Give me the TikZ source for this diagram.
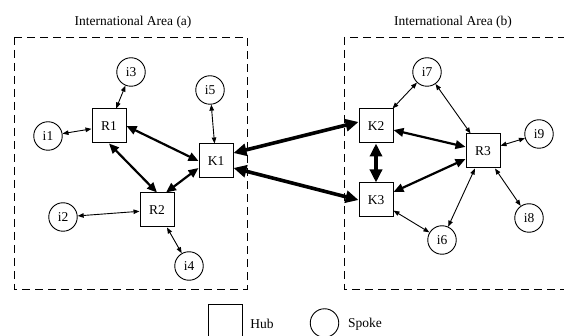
\documentclass[tikz,border=0pt]{standalone}
\usepackage{fontspec}
\setmainfont{Liberation Serif}
\usetikzlibrary{arrows.meta}

\begin{document}
\begin{tikzpicture}[x=1pt,y=-1pt,
    every node/.style={font=\fontsize{13.5}{16}\selectfont},
    hub/.style={draw,line width=1pt,minimum size=34pt,inner sep=0pt},
    spoke/.style={draw,circle,line width=0.9pt,minimum size=28.5pt,inner sep=0pt},
    thinarrow/.style={line width=0.9pt,{Triangle[length=6pt,width=4.5pt]}-{Triangle[length=6pt,width=4.5pt]}},
    midarrow/.style={line width=2.2pt,{Triangle[length=10pt,width=8.5pt]}-{Triangle[length=10pt,width=8.5pt]}},
    bigarrow/.style={line width=3.6pt,{Triangle[length=13pt,width=12pt]}-{Triangle[length=13pt,width=12pt]}},
    area/.style={draw,line width=0.9pt,dash pattern=on 8pt off 5pt}]
    \useasboundingbox (0,0) rectangle (564,336);

    % the two areas
    \draw[area] (14,37) rectangle (247,289);
    \draw[area] (344,37) rectangle (580,289);
    \node (areaA) at (133,22) {International Area (a)};
    \node (areaB) at (453,22) {International Area (b)};

    % area (a)
    \node[hub] (R1) at (109,126) {R1};
    \node[hub] (R2) at (157,210) {R2};
    \node[hub] (K1) at (216,161) {K1};
    \node[spoke] (i1) at (48,136) {i1};
    \node[spoke] (i2) at (63,217) {i2};
    \node[spoke] (i3) at (131,72) {i3};
    \node[spoke] (i4) at (189,266) {i4};
    \node[spoke] (i5) at (210,90) {i5};

    % area (b)
    \node[hub] (K2) at (376,126) {K2};
    \node[hub] (K3) at (376,200) {K3};
    \node[hub] (R3) at (483,151) {R3};
    \node[spoke] (i6) at (442,240) {i6};
    \node[spoke] (i7) at (427,72) {i7};
    \node[spoke] (i8) at (529,218) {i8};
    \node[spoke] (i9) at (539,134) {i9};

    % spokes to hubs
    \draw[thinarrow] (i1) -- (R1);
    \draw[thinarrow] (i3) -- (R1);
    \draw[thinarrow] (i2) -- (R2);
    \draw[thinarrow] (i4) -- (R2);
    \draw[thinarrow] (i5) -- (K1);
    \draw[thinarrow] (i7) -- (K2);
    \draw[thinarrow] (i7) -- (R3);
    \draw[thinarrow] (i9) -- (R3);
    \draw[thinarrow] (i8) -- (R3);
    \draw[thinarrow] (i6) -- (R3);
    \draw[thinarrow] (i6) -- (K3);

    % hubs inside an area
    \draw[midarrow] (R1.east) -- (K1.west);
    \draw[midarrow] (R1.south) -- (R2.north);
    \draw[midarrow] ([xshift=9pt]R2.north) -- ([yshift=-7pt]K1.west);
    \draw[midarrow] (K2) -- (R3);
    \draw[midarrow] (K3) -- (R3);

    % between the areas
    \draw[bigarrow] ([yshift=8pt]K1.east) -- ([yshift=4pt]K2.west);
    \draw[bigarrow] ([yshift=-7pt]K1.east) -- (K3.west);
    \draw[bigarrow] (K2.south) -- (K3.north);

    % legend
    \node[hub] (hubkey) at (225.5,321) {};
    \node (hubtext) at (262,324) {Hub};
    \node[spoke] (spokekey) at (324.5,323) {};
    \node (spoketext) at (365,324) {Spoke};
\end{tikzpicture}
\end{document}
